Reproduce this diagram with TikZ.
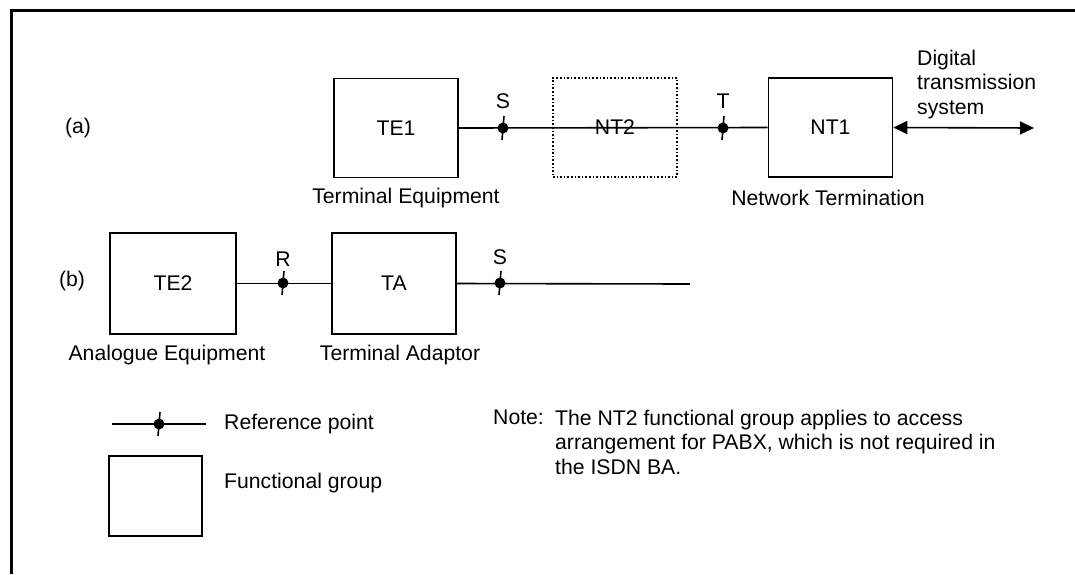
\documentclass[tikz,border=0pt]{standalone}
\usepackage{fontspec}
\setmainfont{Liberation Sans}
\usetikzlibrary{arrows.meta}
\tikzset{
  fbox/.style={draw, line width=1.6pt, inner sep=0pt, minimum width=124pt, minimum height=99pt, font=\fontsize{21.2pt}{24.3pt}\selectfont},
  lbl/.style={inner sep=0pt, font=\fontsize{21.2pt}{24.3pt}\selectfont},
  wire/.style={line width=1.6pt},
  refpt/.pic={\fill circle[radius=5.5pt]; \draw[line width=1.6pt] (1,-12) -- (-1,12);}
}
\begin{document}
\begin{tikzpicture}[x=1pt,y=-1pt]
\useasboundingbox (0,0) rectangle (1075,574);
\fill[white] (0,0) rectangle (1075,574);
% frame
\draw[line width=3pt] (11,574) -- (11,10) -- (1075,10);

% (a)
\node[lbl] (la) at (78,128) {(a)};
\node[fbox] (TE1) at (396,128) {TE1};
\node[fbox, dotted, line width=1.3pt] (NT2) at (615,127.5) {NT2};
\node[fbox] (NT1) at (830.5,127.5) {NT1};
\coordinate (dend) at (1034,128);
\draw[wire] (TE1.east) -- (NT1.west);
\pic at (503,128) {refpt};
\pic at (723,128) {refpt};
\node[lbl] (Sa) at (503,101) {S};
\node[lbl] (Ta) at (723,101) {T};
\draw[wire, {Triangle[length=14pt,width=13pt]}-{Triangle[length=14pt,width=13pt]}] (NT1.east) -- (dend);
\node[lbl, anchor=north west, align=left] (dts) at (917,50) {Digital\\transmission\\system};
\node[lbl] (teq) at (406,198) {Terminal Equipment};
\node[lbl] (ntt) at (828,198) {Network Termination};

% (b)
\node[lbl] (lb) at (72,281) {(b)};
\node[fbox, minimum width=126pt, minimum height=101pt] (TE2) at (173,283.5) {TE2};
\node[fbox, minimum height=101pt] (TA) at (394,283.5) {TA};
\coordinate (bend) at (690,284);
\draw[wire] (TE2.east) -- (TA.west);
\draw[wire] (TA.east) -- (bend);
\pic at (283,283) {refpt};
\pic at (500,283) {refpt};
\node[lbl] (Rb) at (283,259) {R};
\node[lbl] (Sb) at (500,257) {S};
\node[lbl] (aeq) at (167,355) {Analogue Equipment};
\node[lbl] (tad) at (400,355) {Terminal Adaptor};

% legend
\coordinate (l1) at (112,424);
\coordinate (l2) at (206,424);
\draw[wire] (l1) -- (l2);
\pic at (159,424) {refpt};
\node[lbl, anchor=west] (rp) at (224,424) {Reference point};
\node[fbox, minimum width=93pt, minimum height=80pt] (fg) at (155.5,496) {};
\node[lbl, anchor=west] (fgt) at (224,483) {Functional group};

% note
\node[lbl, anchor=north west] (note) at (493,410) {Note:};
\node[lbl, anchor=north west, align=left] (notet) at (555,410) {The NT2 functional group applies to access\\arrangement for PABX, which is not required in\\the ISDN BA.};
\end{tikzpicture}
\end{document}
